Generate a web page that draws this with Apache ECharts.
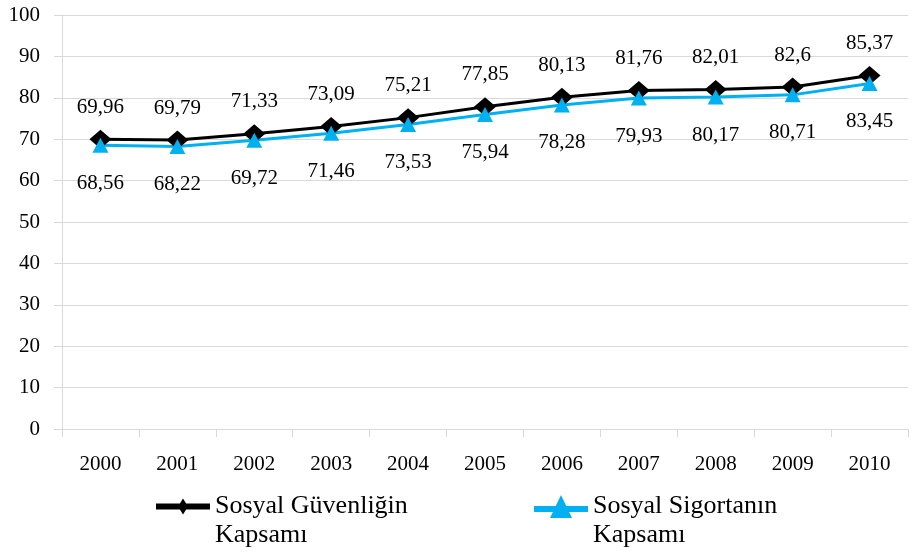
<!DOCTYPE html>
<html>
<head>
<meta charset="utf-8">
<script src="https://cdn.jsdelivr.net/npm/echarts@6/dist/echarts.min.js"></script>
<style>
  html, body { margin: 0; padding: 0; background: #fff; }
  #chart { width: 917px; height: 552px; }
</style>
</head>
<body>
<div id="chart"></div>
<script>
// Years on the horizontal axis
const years = ['2000', '2001', '2002', '2003', '2004', '2005', '2006', '2007', '2008', '2009', '2010'];

// Coverage ratios (%)
const sosyalGuvenlik = [69.96, 69.79, 71.33, 73.09, 75.21, 77.85, 80.13, 81.76, 82.01, 82.6, 85.37];
const sosyalSigorta = [68.56, 68.22, 69.72, 71.46, 73.53, 75.94, 78.28, 79.93, 80.17, 80.71, 83.45];

// Series names (shown in the legend over two lines)
const nameGuvenlik = 'Sosyal Güvenliğin Kapsamı';
const nameSigorta = 'Sosyal Sigortanın Kapsamı';

const FONT = '"Liberation Serif", "Times New Roman", serif';
const BLUE = '#00B0F0';
const GRID_COLOR = '#d9d9d9';

const fmtComma = v => String(v).replace('.', ',');
// Blank first line keeps the icon level with the first line of the name
const twoLines = name => {
  const i = name.lastIndexOf(' ');
  return ' \n' + name.slice(0, i) + '\n' + name.slice(i + 1);
};

const legendText = {
  fontFamily: FONT,
  fontSize: 26,
  lineHeight: 29,
  color: '#000'
};

const chart = echarts.init(document.getElementById('chart'), null, { renderer: 'canvas' });

chart.setOption({
  animation: false,
  backgroundColor: '#fff',
  grid: { left: 62, right: 9, top: 15, bottom: 123 },
  xAxis: {
    type: 'category',
    data: years,
    boundaryGap: true,
    axisLine: { show: true, lineStyle: { color: GRID_COLOR, width: 1 } },
    axisTick: { show: true, length: 8, lineStyle: { color: GRID_COLOR, width: 1 } },
    axisLabel: { margin: 25, fontFamily: FONT, fontSize: 21, color: '#000' },
    splitLine: { show: false }
  },
  yAxis: {
    type: 'value',
    min: 0,
    max: 100,
    interval: 10,
    axisLine: { show: true, lineStyle: { color: GRID_COLOR, width: 1 } },
    axisTick: { show: true, length: 8, lineStyle: { color: GRID_COLOR, width: 1 } },
    axisLabel: { margin: 22, fontFamily: FONT, fontSize: 21, color: '#000' },
    splitLine: { show: true, lineStyle: { color: GRID_COLOR, width: 1 } }
  },
  legend: [
    {
      data: [{
        name: nameGuvenlik,
        icon: 'path://M0 5H54V11H0Z M27 0L32 8L27 16L22 8Z'
      }],
      left: 156,
      top: 463,
      padding: 0,
      itemWidth: 54,
      itemHeight: 16,
      itemStyle: { color: '#000' },
      formatter: twoLines,
      textStyle: legendText
    },
    {
      data: [{
        name: nameSigorta,
        icon: 'path://M0 11H54V17H0Z M27 0L38 23L16 23Z'
      }],
      left: 534,
      top: 463,
      padding: 0,
      itemWidth: 54,
      itemHeight: 23,
      itemStyle: { color: BLUE },
      formatter: twoLines,
      textStyle: legendText
    }
  ],
  series: [
    {
      name: nameGuvenlik,
      type: 'line',
      data: sosyalGuvenlik,
      symbol: 'diamond',
      symbolSize: [22, 19],
      lineStyle: { color: '#000', width: 3 },
      itemStyle: { color: '#000' },
      label: {
        show: true,
        position: 'top',
        distance: 12,
        fontFamily: FONT,
        fontSize: 21,
        color: '#000',
        formatter: p => fmtComma(p.value)
      }
    },
    {
      name: nameSigorta,
      type: 'line',
      data: sosyalSigorta,
      symbol: 'triangle',
      symbolSize: [16, 15],
      lineStyle: { color: BLUE, width: 3 },
      itemStyle: { color: BLUE },
      label: {
        show: true,
        position: 'bottom',
        distance: 20,
        fontFamily: FONT,
        fontSize: 21,
        color: '#000',
        formatter: p => fmtComma(p.value)
      }
    }
  ]
});
</script>
</body>
</html>
